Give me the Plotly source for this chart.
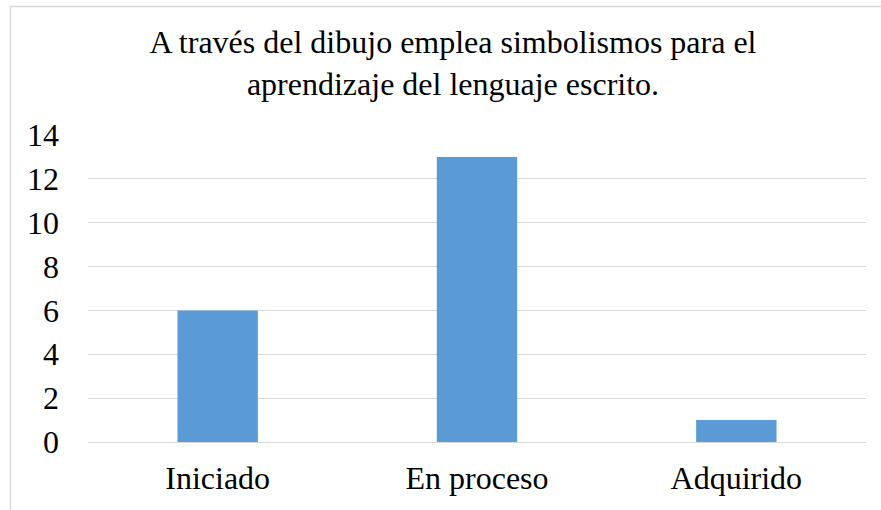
import plotly.graph_objects as go

categories = ["Iniciado", "En proceso", "Adquirido"]
values = [6, 13, 1]
y_ticks = [0, 2, 4, 6, 8, 10, 12, 14]
title_text = "A través del dibujo emplea simbolismos para el<br>aprendizaje del lenguaje escrito."

font_family = "Liberation Serif"

fig = go.Figure(go.Bar(
    x=categories, y=values,
    marker=dict(color="#5B9BD5", line=dict(width=0)),
    width=0.31,
))

fig.update_layout(
    width=881, height=510,
    margin=dict(l=88, r=15, t=135, b=68, autoexpand=False),
    paper_bgcolor="white", plot_bgcolor="white",
    showlegend=False,
    font=dict(family=font_family, color="black", size=32),
    title=dict(
        text=title_text,
        font=dict(family=font_family, size=32, color="black"),
        x=453/881, xanchor="center", xref="container",
        y=1 - 53/510, yanchor="top", yref="container",
    ),
    xaxis=dict(
        showgrid=False, showline=True, linecolor="#d9d9d9", linewidth=1,
        ticks="", tickfont=dict(family=font_family, size=32), ticklabelstandoff=8,
    ),
    yaxis=dict(
        range=[0, 14], tickvals=y_ticks, showgrid=True, gridcolor="#d9d9d9",
        gridwidth=1, zeroline=False, showline=False, ticks="",
        tickfont=dict(family=font_family, size=32), ticklabelstandoff=28,
    ),
    shapes=[dict(
        type="rect", xref="paper", yref="paper",
        x0=(10.5 - 88) / 778, x1=1.05,
        y0=-0.3, y1=1 + (135 - 6.5) / 307,
        line=dict(color="#d9d9d9", width=1.5), fillcolor="rgba(0,0,0,0)",
        layer="below",
    )],
)

fig.write_html("out.html", config={"displayModeBar": False},
               post_script="document.body.style.margin='0px';")
